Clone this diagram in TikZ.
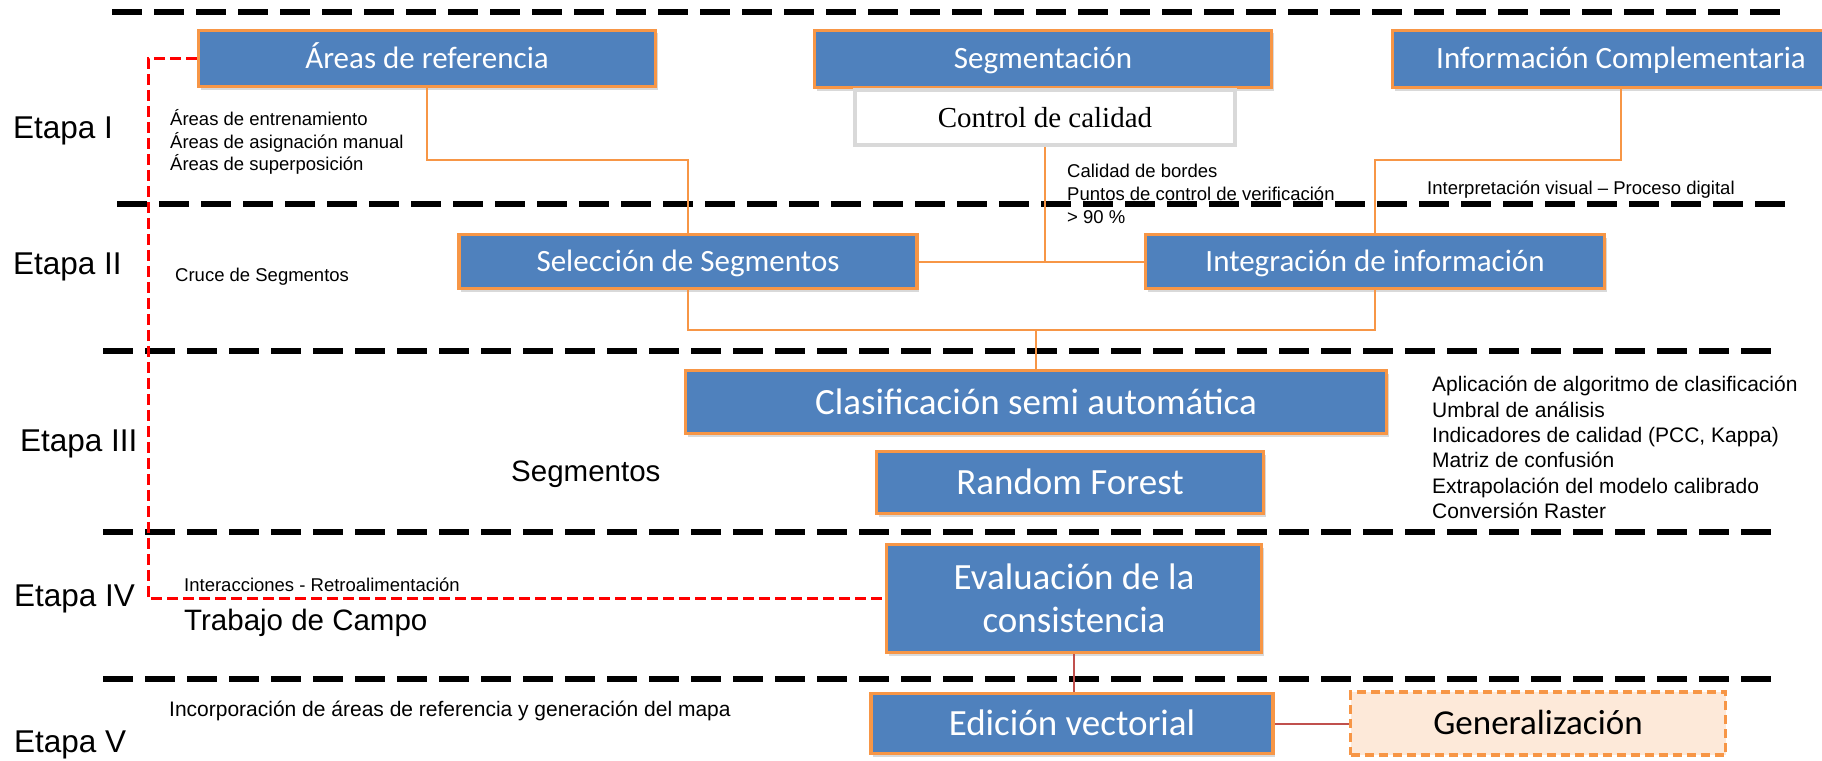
\documentclass[tikz,border=0pt]{standalone}
\usepackage{fontspec}
\setmainfont{Liberation Sans}
\newfontfamily\cajafont{Carlito}
\newfontfamily\serifont{Liberation Serif}
\usetikzlibrary{shadows}

\definecolor{azul}{HTML}{4F81BD}
\definecolor{naranja}{HTML}{F79646}
\definecolor{salmon}{HTML}{FDE9D9}
\definecolor{rojizo}{HTML}{C0504D}
\definecolor{gris}{HTML}{D9D9D9}

\begin{document}
\begin{tikzpicture}[x=1pt,y=-1pt,
  caja/.style={draw=naranja,line width=3.5pt,fill=azul,text=white,inner sep=0pt,align=center,
    text depth=0pt,
    drop shadow={shadow xshift=2pt,shadow yshift=-3pt,opacity=.3}},
  media/.style={caja,text height=20pt,font={\cajafont\fontsize{31}{37}\selectfont}},
  grande/.style={caja,text height=24pt,font={\cajafont\fontsize{37}{43}\selectfont}},
  etapa/.style={anchor=west,inner sep=0pt,font={\fontsize{31.5}{38}\selectfont}},
  nota/.style={anchor=west,inner sep=0pt,align=left,font={\fontsize{18.5}{22.7}\selectfont}},
  notab/.style={anchor=west,inner sep=0pt,align=left,font={\fontsize{21}{25.4}\selectfont}},
  rotulo/.style={anchor=west,inner sep=0pt,font={\fontsize{29.5}{35}\selectfont}},
  sep/.style={line width=5.5pt,dash pattern=on 30pt off 12pt},
  link/.style={draw=naranja,line width=2pt},
  lazo/.style={draw=red,line width=3pt,dash pattern=on 11pt off 5pt},
  enlace/.style={draw=rojizo,line width=2pt}]
\useasboundingbox (0,0) rectangle (1822,760);
\clip (0,0) rectangle (1822,760);

% separadores de etapas
\foreach \y/\xa/\xb in {12/112/1782, 204/117/1786, 351/103/1776, 532/103/1776, 679/103/1776}
  \draw[sep] (\xa,\y) -- (\xb,\y);

% cajas
\node[media,minimum width=457pt,minimum height=56pt] (aref) at (427,58.5) {Áreas de referencia};
\node[media,minimum width=457pt,minimum height=57pt] (seg) at (1043,59) {Segmentación};
\node[draw=gris,line width=4pt,fill=white,inner sep=0pt,minimum width=380pt,minimum height=55pt,
  text height=19pt,text depth=0pt,
  font={\serifont\fontsize{29}{34}\selectfont}] (ctrl) at (1045,117.5) {Control de calidad};
\node[media,minimum width=457pt,minimum height=57pt] (infc) at (1621,59) {Información Complementaria};
\node[media,minimum width=458pt,minimum height=54pt] (sel) at (688,261.5) {Selección de Segmentos};
\node[media,minimum width=459pt,minimum height=54pt] (integ) at (1375,261.5) {Integración de información};
\node[grande,minimum width=701pt,minimum height=63pt] (clas) at (1036,402) {Clasificación semi automática};
\node[grande,minimum width=387pt,minimum height=62pt] (rf) at (1070,482.5) {Random Forest};
\node[grande,text height={},text depth={},minimum width=375pt,minimum height=108pt] (eval) at (1074,598.5) {Evaluación de la\\consistencia};
\node[grande,minimum width=402pt,minimum height=60pt] (edic) at (1072,723.5) {Edición vectorial};
\node[draw=naranja,line width=3.5pt,dash pattern=on 9pt off 5pt,fill=salmon,inner sep=0pt,
  text height=22.5pt,text depth=0pt,
  minimum width=375pt,minimum height=63pt,font={\cajafont\fontsize{35}{42}\selectfont}] (gen) at (1538,723.5) {Generalización};

% textos
\node[etapa] (e1) at (13,131) {Etapa I};
\node[etapa] (e2) at (13,267) {Etapa II};
\node[etapa] (e3) at (20,444) {Etapa III};
\node[etapa] (e4) at (14,599) {Etapa IV};
\node[etapa] (e5) at (14,745) {Etapa V};
\node[nota] (t1) at (170,142) {Áreas de entrenamiento\\Áreas de asignación manual\\Áreas de superposición};
\node[nota] (t2) at (175,277) {Cruce de Segmentos};
\node[rotulo] (t3) at (511,474) {Segmentos};
\node[nota] (t4) at (1067,194) {Calidad de bordes\\Puntos de control de verificación\\> 90 \%};
\node[nota] (t5) at (1427,190) {Interpretación visual – Proceso digital};
\node[notab] (t6) at (1432,447.5) {Aplicación de algoritmo de clasificación\\Umbral de análisis\\Indicadores de calidad (PCC, Kappa)\\Matriz de confusión\\Extrapolación del modelo calibrado\\Conversión Raster};
\node[nota] (t7) at (184,585) {Interacciones - Retroalimentación};
\node[rotulo] (t8) at (184,623) {Trabajo de Campo};
\node[notab] (t9) at (169,711) {Incorporación de áreas de referencia y generación del mapa};

% conectores
\coordinate (k1) at (688,160);
\coordinate (k2) at (1375,160);
\coordinate (k3) at (1036,330);
\coordinate (fb) at (148,300);
\draw[link] (aref.south) |- (k1) -- (sel.north);
\draw[link] (infc.south) |- (k2) -- (integ.north);
\draw[link] (sel.east) -- (integ.west);
\draw[link] (ctrl.south) -- (ctrl.south |- sel.east);
\draw[link] (sel.south) |- (k3) -| (integ.south);
\draw[link] (k3) -- (clas.north);
\draw[enlace] (eval.south) -- (eval.south |- edic.north);
\draw[enlace] (edic.east) -- (gen.west);
\draw[lazo] (aref.west) -- (aref.west -| fb) -- (fb |- eval.west) -- (eval.west);
\end{tikzpicture}
\end{document}
